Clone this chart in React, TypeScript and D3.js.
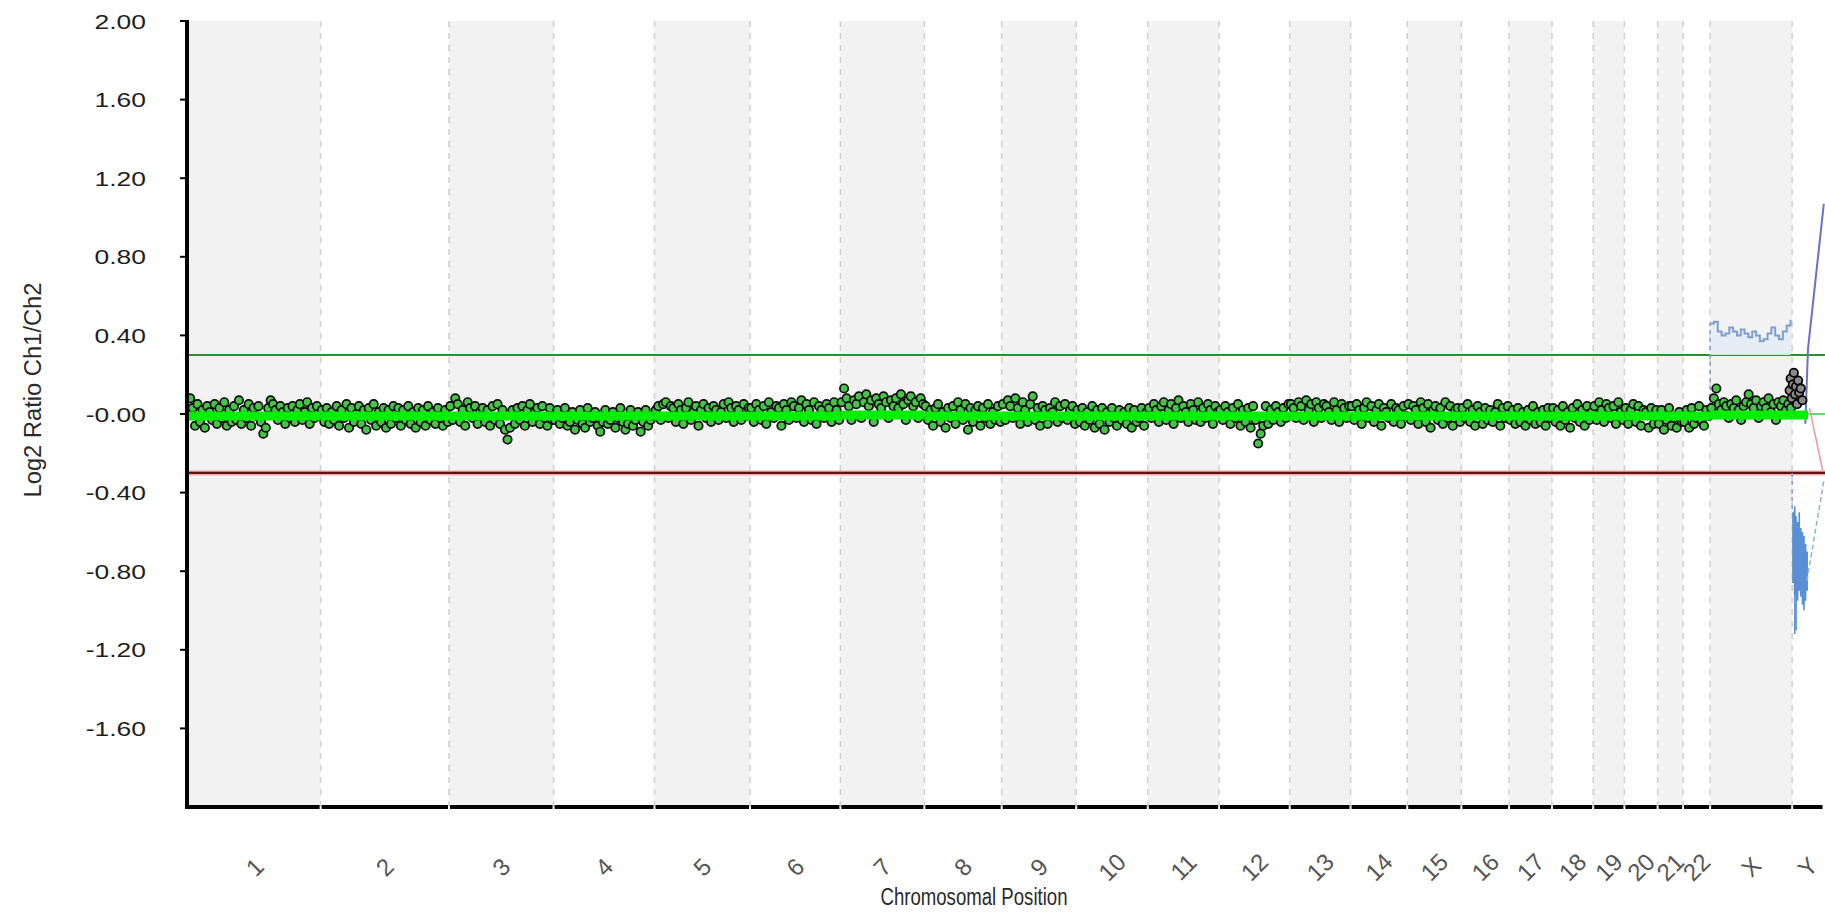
import React from 'react';
import * as d3 from 'd3';

const chromNames = ['1','2','3','4','5','6','7','8','9','10','11','12','13','14','15','16','17','18','19','20','21','22','X','Y'];
const chromLengths = [249.25,243.2,198.0,191.15,180.9,171.1,159.1,146.4,141.2,135.5,135.0,133.85,115.2,107.35,102.5,90.35,81.2,78.1,59.1,63.0,48.1,51.3,155.3,59.4];

const yTicks = [2.0,1.6,1.2,0.8,0.4,0.0,-0.4,-0.8,-1.2,-1.6];
const yTickLabels = ['2.00','1.60','1.20','0.80','0.40','-0.00','-0.40','-0.80','-1.20','-1.60'];

const gainThreshold = 0.3;
const lossThreshold = -0.3;

// log2 ratios of probes x100, per chromosome (1..22, X), in genomic order
const probeRatiosX100: number[][] = [
  [8,3,-6,5,-4,2,-7,4,1,-3,5,-5,3,-2,6,-6,2,-4,4,-3,7,-5,2,-2,5,-6,3,-1,4,-4,-10,-7,3,7,5,2,-3,4,1,-5,3,-2,4,-4,2,5,-3,1,6,-5,3,-2,4,-1],
  [2,-4,3,-5,1,-3,4,-6,2,-2,5,-7,3,-4,0,4,-5,2,-8,3,-3,5,-6,1,-4,3,-7,2,-5,4,-2,3,-6,2,-3,4,-5,1,-7,3,-4,2,-6,4,-3,1,-5,3,-2,-6,2,-4],
  [4,-3,8,5,-4,2,-6,6,3,-2,4,-5,1,3,-4,2,-6,4,-3,5,-5,2,-8,-13,-7,2,-5,3,-3,4,-6,2,5,-4,1,3,-5,4,-2,-6,3,-3],
  [-3,2,-5,-2,3,-6,-4,1,-8,-3,2,-5,-7,3,-4,-2,1,-6,-9,-4,2,-5,-3,1,-7,-2,3,-4,-8,-5,2,-6,-3,1,-9,-4,2,-6,-3,-1],
  [2,4,-3,5,6,-2,4,3,-4,5,2,-5,3,6,-3,1,4,-6,2,5,-2,3,-4,4,2,-3,1,5,-2,6,3,-4,4,2,-3,5,-1,3],
  [3,-4,5,2,-3,4,-5,6,1,-2,4,3,-6,5,2,-3,6,4,-2,3,7,-4,5,2,-3,6,-5,4,2,-2,5,3,-4,6,2,-3],
  [6,13,8,4,-3,7,5,9,-2,6,10,4,7,-4,8,5,3,9,6,-2,7,4,8,3,10,5,-3,7,9,4,6,-2,8,5],
  [4,-3,2,-6,3,5,-4,1,-7,3,-2,4,-5,6,2,-3,5,-8,3,-4,2,4,-6,3,-2,5,-5,1,-3,4,-4],
  [5,-3,7,4,-2,8,3,-5,6,2,-4,5,9,-3,3,-6,4,2,-5,3,1,6,-4,4,-2,5,-3,2,4,-5],
  [2,-4,3,-6,1,-3,4,-7,2,-5,3,-8,1,-4,3,-2,-6,2,-3,1,-5,3,-7,2,-4,-2,3,-6,1],
  [3,-2,5,2,-4,4,6,-3,2,5,-5,3,7,-2,4,1,-4,5,2,-3,6,-4,3,-2,5,2,-5,4,1],
  [2,-3,4,1,-5,3,-2,5,-6,2,-4,3,-7,4,-3,-15,-10,-6,4,-5,2,-3,4,1,-4,3,-2,5],
  [5,3,-2,6,4,-3,7,2,5,-4,6,3,-2,5,4,1,-3,6,2,-4,5,3,-2,4],
  [4,-3,5,2,-5,3,6,-2,4,-4,2,5,-6,3,1,-2,5,-4,3,2,-5,4,-1],
  [5,-3,4,2,-5,6,3,-4,5,-7,2,4,-3,3,-5,6,-2,4,-6,2,3,-4],
  [3,-2,5,-4,2,-6,4,1,-5,3,-3,2,-4,1,5,-6,3,-2,4],
  [-3,2,-5,3,-4,1,-6,2,-3,4,-5,1,-4,2,-6,3,-2],
  [3,-4,2,-6,4,-3,1,-7,3,-2,5,-4,2,-6,4,-3,1],
  [4,-3,6,2,-4,5,3,-2,4,-5,6,1,-3],
  [3,-5,2,5,-4,4,-6,2,1,-7,3,-5,2],
  [-5,2,-8,-3,3,-6,-2,-7,1,-4],
  [-4,2,-7,3,-5,-2,4,-3,-6,2,-1],
  [3,8,13,5,2,6,4,-2,5,3,7,2,-3,4,6,10,5,3,7,-2,4,6,3,8,1,5,-3,6,4,7,2,5,3],
];

// chromosome Y probes (black)
const yProbePos = [1,3,5,7,9,11,13,15,17,19,22,25];
const yProbeValues = [0.12,0.18,0.08,0.15,0.21,0.1,0.14,0.05,0.17,0.11,0.13,0.07];

// segment level (moving average) per chromosome 1..22, X
const segLevels = [-0.01,-0.01,-0.01,-0.01,-0.01,-0.01,-0.005,-0.01,-0.01,-0.01,-0.01,-0.01,-0.01,-0.01,-0.01,-0.01,-0.01,-0.01,-0.01,-0.01,-0.01,-0.01,-0.005];

// X chromosome aberration trace
const xTraceValues = [0.46,0.47,0.42,0.40,0.41,0.44,0.42,0.40,0.43,0.41,0.39,0.42,0.40,0.37,0.38,0.41,0.44,0.40,0.38,0.42,0.45,0.48];
// Y chromosome loss band
const yBandPos = [0,3,6,9,12,15,18,21,24,27,30];
const yBandTop = [-0.5,-0.49,-0.52,-0.55,-0.5,-0.58,-0.6,-0.62,-0.66,-0.7,-0.7];
const yBandBottom = [-0.86,-0.92,-1.1,-0.95,-0.9,-0.93,-0.97,-1.0,-0.95,-0.9,-0.9];
// Y chromosome traces
const purplePos = [25, 30, 45, 60];
const purpleVals = [-0.05, 0.33, 0.7, 1.07];
const pinkPos = [33, 58];
const pinkVals = [0.03, -0.29];
const dashBluePos = [28, 60];
const dashBlueVals = [-0.85, -0.34];

export default function App() {
  const W = 1825, H = 913;
  const starts: number[] = [];
  let acc = 0;
  chromLengths.forEach((l) => { starts.push(acc); acc += l; });
  const total = acc;
  const x = d3.scaleLinear().domain([0, total]).range([189, 1823.5]);
  const y = d3.scaleLinear().domain([-2, 2]).range([807, 21]);
  const plotTop = y(2), plotBottom = y(-2);
  const yStart = starts[23];
  const xStart = starts[22];

  const points: { cx: number; cy: number }[] = [];
  probeRatiosX100.forEach((vals, c) => {
    vals.forEach((v, i) => {
      points.push({ cx: x(starts[c] + ((i + 0.5) / vals.length) * chromLengths[c]), cy: y(v / 100) });
    });
  });

  const xTraceX = xTraceValues.map((_, i) => xStart + (i / (xTraceValues.length - 1)) * chromLengths[22] * 0.98);
  const traceData = xTraceValues.map((v, i) => [xTraceX[i], v] as [number, number]);
  const stepLine = d3.line<[number, number]>().x(d => x(d[0])).y(d => y(d[1])).curve(d3.curveStepAfter);
  const stepArea = d3.area<[number, number]>().x(d => x(d[0])).y0(y(gainThreshold)).y1(d => y(d[1])).curve(d3.curveStepAfter);

  const bandData = yBandPos.map((p, i) => ({ p: yStart + p, t: yBandTop[i], b: yBandBottom[i] }));
  const bandArea = d3.area<{ p: number; t: number; b: number }>().x(d => x(d.p)).y0(d => y(d.b)).y1(d => y(d.t)).curve(d3.curveStepAfter);
  const plainLine = d3.line<[number, number]>().x(d => x(d[0])).y(d => y(d[1]));

  const font = 'Arial, "Liberation Sans", Helvetica, sans-serif';

  return (
    <svg width={W} height={H} style={{ position: 'absolute', left: 0, top: 0, background: '#fff' }} fontFamily={font}>
      <defs>
        <clipPath id="plotclip"><rect x={189} y={plotTop} width={W - 189} height={plotBottom - plotTop} /></clipPath>
      </defs>
      {chromNames.map((n, i) => (
        i % 2 === 0 ? (
          <rect key={'b' + n} x={x(starts[i])} y={plotTop} width={x(starts[i] + chromLengths[i]) - x(starts[i])} height={plotBottom - plotTop} fill="#f2f2f2" />
        ) : null
      ))}
      {chromNames.map((n, i) => i === 0 ? null : (
        <line key={'d' + n} x1={x(starts[i])} x2={x(starts[i])} y1={plotTop} y2={plotBottom} stroke="#cfcfcf" strokeWidth={1.5} strokeDasharray="6,6" />
      ))}
      <g clipPath="url(#plotclip)">
        <line x1={189} x2={W} y1={y(0)} y2={y(0)} stroke="#33cc33" strokeWidth={1.5} />
        <line x1={189} x2={W} y1={y(gainThreshold)} y2={y(gainThreshold)} stroke="#2f8f2f" strokeWidth={2} />
        <line x1={189} x2={W} y1={y(lossThreshold)} y2={y(lossThreshold)} stroke="#f2a8a8" strokeWidth={5} />
        <line x1={189} x2={W} y1={y(lossThreshold)} y2={y(lossThreshold)} stroke="#5e1414" strokeWidth={2.2} />
        <path d={stepArea(traceData) || ''} fill="#e3ecf7" opacity={0.9} />
        <path d={stepLine(traceData) || ''} fill="none" stroke="#7c9fcc" strokeWidth={2} />
        <line x1={x(xStart)} x2={x(xStart)} y1={y(0)} y2={y(xTraceValues[0])} stroke="#7c9fcc" strokeWidth={1.5} strokeDasharray="4,4" />
        <line x1={x(yStart)} x2={x(yStart)} y1={y(lossThreshold)} y2={y(yBandTop[0])} stroke="#7c9fcc" strokeWidth={1.5} strokeDasharray="4,4" />
        <path d={bandArea(bandData) || ''} fill="#5b8fd3" />
        <line x1={x(yStart + 5)} x2={x(yStart + 5)} y1={y(-0.47)} y2={y(-1.12)} stroke="#5b8fd3" strokeWidth={1.5} />
        <path d={plainLine(dashBluePos.map((p, i) => [yStart + p, dashBlueVals[i]] as [number, number])) || ''} fill="none" stroke="#8fb0dd" strokeWidth={1.5} strokeDasharray="5,3" />
        <path d={plainLine(pinkPos.map((p, i) => [yStart + p, pinkVals[i]] as [number, number])) || ''} fill="none" stroke="#e79a9a" strokeWidth={1.5} />
        <path d={plainLine(purplePos.map((p, i) => [yStart + p, purpleVals[i]] as [number, number])) || ''} fill="none" stroke="#6f6fc4" strokeWidth={2} />
        {points.map((p, i) => (
          <circle key={'p' + i} cx={p.cx} cy={p.cy} r={4.2} fill="#47c447" stroke="#0a0a0a" strokeWidth={1.7} />
        ))}
        {yProbePos.map((p, i) => (
          <circle key={'y' + i} cx={x(yStart + p) - 3} cy={y(yProbeValues[i])} r={4.2} fill="#8a8a8a" stroke="#000" strokeWidth={1.8} />
        ))}
        {segLevels.map((v, i) => (
          <line key={'s' + i} x1={x(starts[i])} x2={x(starts[i] + chromLengths[i])} y1={y(v)} y2={y(v)} stroke="#00f000" strokeWidth={9} />
        ))}
        <line x1={x(yStart)} x2={x(yStart + 30)} y1={y(-0.005)} y2={y(-0.005)} stroke="#00f000" strokeWidth={9} />
      </g>
      <line x1={187} x2={187} y1={plotTop - 1} y2={plotBottom + 2} stroke="#000" strokeWidth={4} />
      {chromNames.map((n, i) => (
        <line key={'a' + n} x1={i === 0 ? 185 : x(starts[i]) + 1} x2={x(starts[i] + chromLengths[i]) - 1} y1={plotBottom} y2={plotBottom} stroke="#000" strokeWidth={4} />
      ))}
      {yTicks.map((t, i) => (
        <g key={'t' + i}>
          <line x1={180} x2={187} y1={y(t)} y2={y(t)} stroke="#000" strokeWidth={2} />
          <g transform={`translate(146,${y(t)}) scale(1.26,1)`}>
            <text x={0} y={0} dy="0.36em" textAnchor="end" fontSize={21} fill="#1e1e1e">{yTickLabels[i]}</text>
          </g>
        </g>
      ))}
      {chromNames.map((n, i) => {
        const cx = x(starts[i] + chromLengths[i] / 2);
        const cy = 867;
        return (
          <text key={'l' + n} x={cx} y={cy} dy="0.35em" textAnchor="middle" fontSize={24} fill="#555" transform={`rotate(-45,${cx},${cy})`}>{n}</text>
        );
      })}
      <text x={974} y={897} dy="0.35em" textAnchor="middle" fontSize={23} fill="#2a2a2a" textLength={187} lengthAdjust="spacingAndGlyphs">Chromosomal Position</text>
      <text x={0} y={0} transform={`translate(33,390) rotate(-90)`} dy="0.35em" textAnchor="middle" fontSize={23} fill="#2a2a2a" textLength={215} lengthAdjust="spacingAndGlyphs">Log2 Ratio Ch1/Ch2</text>
    </svg>
  );
}
